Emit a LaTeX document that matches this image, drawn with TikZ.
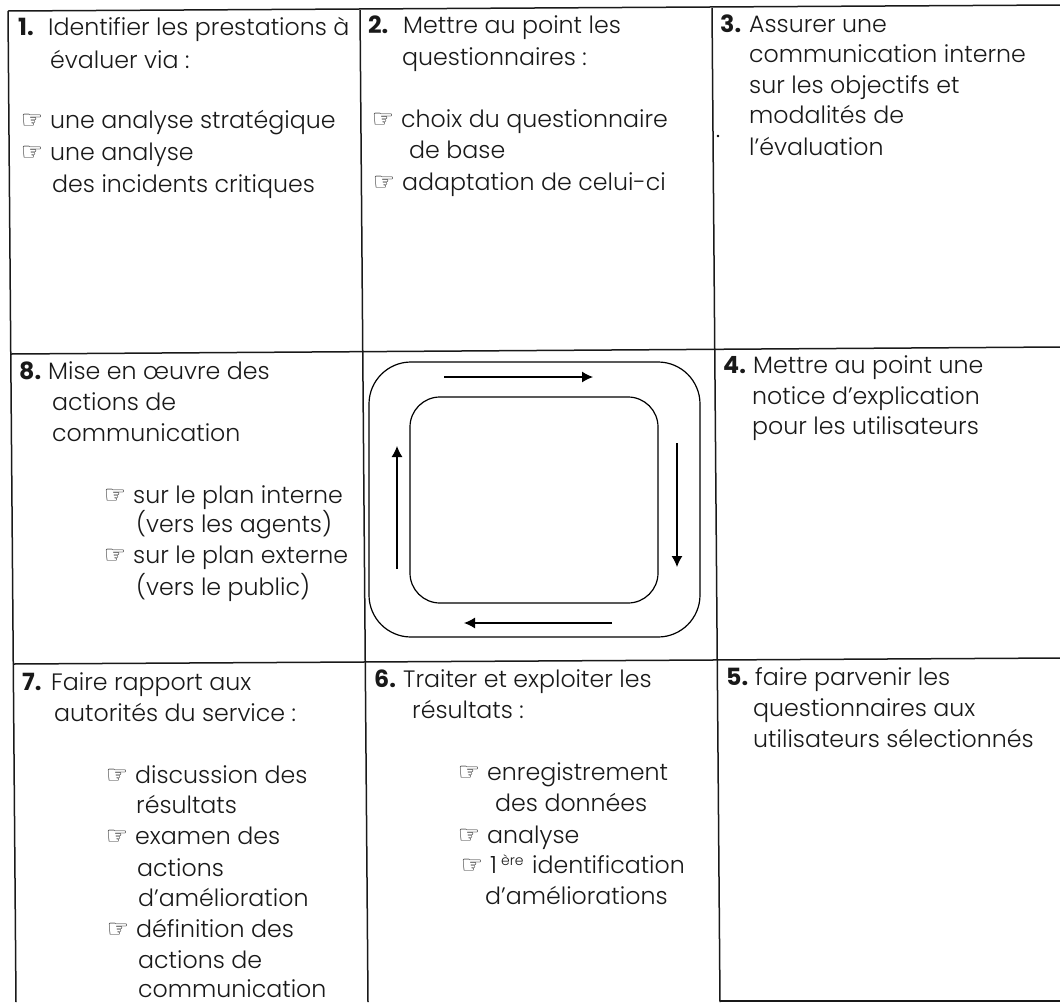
\documentclass[tikz,border=0pt]{standalone}
\usepackage{fontspec}
\usetikzlibrary{arrows.meta}
\setmainfont{Poppins Light}[BoldFont={Poppins Bold}]
\newfontfamily\handfont{DejaVu Sans}
\newcommand{\hand}{\llap{{\handfont\fontsize{25}{25}\selectfont ☞}\hspace{7pt}}}
\newcommand{\supere}{\raisebox{8pt}{\fontsize{14}{14}\selectfont ère}}
\tikzset{
  rule/.style={black!90, line width=1.5pt},
  ring/.style={black, line width=1.2pt, rounded corners=42pt},
  flow/.style={black, line width=1.2pt, -{Latex[length=11pt,width=11pt]}},
  txt/.style={anchor=base west, inner sep=0pt, font=\fontsize{23.7}{23.7}\selectfont, text=black!90}
}
\begin{document}
\begin{tikzpicture}[x=1pt,y=-1pt]
\useasboundingbox (0,0) rectangle (1060,1002);
% grid
\draw[rule] (8,11) -- (16,1002);
\draw[rule] (360,10) -- (368,1002);
\draw[rule] (712,8) -- (720,1002);
\draw[rule] (8,11) -- (1060,5);
\draw[rule] (11,354) -- (1060,347);
\draw[rule] (13,664) -- (1060,658);
\draw[rule] (720,1001) -- (1060,1001);
% cycle
\draw[ring] (369,362) rectangle (700,637);
\draw[ring,rounded corners=30pt] (410,397) rectangle (658,603);
\coordinate (ta) at (444,377); \coordinate (tb) at (593,377);
\coordinate (ra) at (677,443); \coordinate (rb) at (677,567);
\coordinate (ba) at (612,623); \coordinate (bb) at (464,623);
\coordinate (la) at (397,569); \coordinate (lb) at (397,446);
\draw[flow] (ta) -- (tb);
\draw[flow] (ra) -- (rb);
\draw[flow] (ba) -- (bb);
\draw[flow] (la) -- (lb);
\fill[black] (718,136) circle (1.3pt);
% cell 1
\node[txt] (a1) at (18,35) {\textbf{1.}};
\node[txt] (a1b) at (48,35) {Identifier les prestations à};
\node[txt] (a2) at (50,68) {évaluer via :};
\node[txt] (a3) at (50,128) {\hand une analyse stratégique};
\node[txt] (a4) at (50,160) {\hand une analyse};
\node[txt] (a5) at (52,192) {des incidents critiques};
% cell 2
\node[txt] (b1) at (368,33) {\textbf{2.}};
\node[txt] (b1b) at (403,33) {Mettre au point les};
\node[txt] (b2) at (402,65) {questionnaires :};
\node[txt] (b3) at (401,127) {\hand choix du questionnaire};
\node[txt] (b4) at (409,158) {de base};
\node[txt] (b5) at (402,190) {\hand adaptation de celui-ci};
% cell 3
\node[txt] (c1) at (720,32) {\textbf{3.}};
\node[txt] (c1b) at (749,32) {Assurer une};
\node[txt] (c2) at (749,62) {communication interne};
\node[txt] (c3) at (749,93) {sur les objectifs et};
\node[txt] (c4) at (749,123) {modalités de};
\node[txt] (c5) at (749,155) {l’évaluation};
% cell 4
\node[txt] (d1) at (723,373) {\textbf{4.}};
\node[txt] (d1b) at (753,373) {Mettre au point une};
\node[txt] (d2) at (752,404) {notice d’explication};
\node[txt] (d3) at (752,434) {pour les utilisateurs};
% cell 8
\node[txt] (h1) at (19,379) {\textbf{8.}};
\node[txt] (h1b) at (48,379) {Mise en œuvre des};
\node[txt] (h2) at (52,410) {actions de};
\node[txt] (h3) at (52,441) {communication};
\node[txt] (h4) at (133,503) {\hand sur le plan interne};
\node[txt] (h5) at (136,532) {(vers les agents)};
\node[txt] (h6) at (133,563) {\hand sur le plan externe};
\node[txt] (h7) at (136,595) {(vers le public)};
% cell 7
\node[txt] (g1) at (22,690) {\textbf{7.}};
\node[txt] (g1b) at (51,690) {Faire rapport aux};
\node[txt] (g2) at (54,721) {autorités du service :};
\node[txt] (g3) at (135,783) {\hand discussion des};
\node[txt] (g4) at (136,813) {résultats};
\node[txt] (g5) at (135,844) {\hand examen des};
\node[txt] (g6) at (137,876) {actions};
\node[txt] (g7) at (138,906) {d’amélioration};
\node[txt] (g8) at (136,937) {\hand définition des};
\node[txt] (g9) at (138,968) {actions de};
\node[txt] (g10) at (138,997) {communication};
% cell 6
\node[txt] (f1) at (374,687) {\textbf{6.}};
\node[txt] (f1b) at (403,687) {Traiter et exploiter les};
\node[txt] (f2) at (412,718) {résultats :};
\node[txt] (f3) at (487,780) {\hand enregistrement};
\node[txt] (f4) at (495,811) {des données};
\node[txt] (f5) at (487,843) {\hand analyse};
\node[txt] (f6) at (490,873) {\hand 1\kern4pt\supere\ \kern2pt identification};
\node[txt] (f7) at (485,904) {d’améliorations};
% cell 5
\node[txt] (e1) at (726,685) {\textbf{5.}};
\node[txt] (e1b) at (755,685) {faire parvenir les};
\node[txt] (e2) at (753,716) {questionnaires aux};
\node[txt] (e3) at (753,747) {utilisateurs sélectionnés};
\end{tikzpicture}
\end{document}
